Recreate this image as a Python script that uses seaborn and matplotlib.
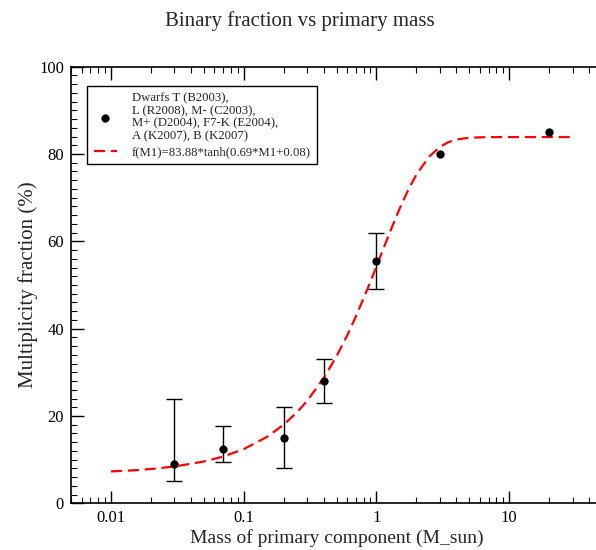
import numpy as np
import pandas as pd
import matplotlib
matplotlib.use("Agg")
import matplotlib.pyplot as plt
import seaborn as sns
from matplotlib.ticker import MultipleLocator, LogLocator, FixedFormatter, FixedLocator

# measured binary fractions
mass = [0.03, 0.07, 0.2, 0.4, 1.0, 3.0, 20.0]
frac = [9.0, 12.5, 15.0, 28.0, 55.6, 80.0, 85.0]
err_lo = [5.0, 9.5, 8.0, 23.0, 49.0, np.nan, np.nan]
err_hi = [24.0, 17.8, 22.0, 33.0, 62.0, np.nan, np.nan]

# fitted curve
fit_mass = [0.01, 0.015, 0.02, 0.03, 0.05, 0.07, 0.1, 0.15, 0.2, 0.25, 0.3, 0.4,
            0.5, 0.6, 0.7, 0.85, 1.0, 1.25, 1.5, 1.75, 2.0, 2.5, 3.0, 3.5, 4.0,
            5.0, 7.0, 10.0, 30.0]
fit_frac = [7.3, 7.56, 7.85, 8.42, 9.56, 10.7, 12.41, 15.22, 18.0, 20.74, 23.44, 28.66,
            33.65, 38.37, 42.8, 48.87, 54.26, 61.78, 67.62, 72.03, 75.31, 79.43, 81.62, 82.75, 83.31,
            83.74, 83.87, 83.88, 83.88]

xticks = [0.01, 0.1, 1, 10]
xtick_labels = ["0.01", "0.1", "1", "10"]

points_label = ("Dwarfs T (B2003),\nL (R2008), M- (C2003),\n"
                "M+ (D2004), F7-K (E2004),\nA (K2007), B (K2007)")
fit_label = "f(M1)=83.88*tanh(0.69*M1+0.08)"

sns.set_theme(style="ticks")
plt.rcParams['font.family'] = ['Liberation Serif', 'DejaVu Serif']

df = pd.DataFrame({"mass": mass, "frac": frac, "lo": err_lo, "hi": err_hi})
df_fit = pd.DataFrame({"mass": fit_mass, "frac": fit_frac})

fig = plt.figure(figsize=(5.96, 5.5), dpi=100)
ax = fig.add_axes([71 / 596, 1 - 503.3 / 550, 531 / 596, 436.6 / 550])

# error bars
has_err = df.dropna()
ax.errorbar(has_err["mass"], has_err["frac"],
            yerr=[has_err["frac"] - has_err["lo"], has_err["hi"] - has_err["frac"]],
            fmt="none", ecolor="black", elinewidth=1.0, capsize=6, capthick=1.0, zorder=2)

sns.lineplot(data=df_fit, x="mass", y="frac", ax=ax, color="red", lw=1.6,
             dashes=False, label=fit_label, zorder=3)
ax.lines[-1].set_dashes((5, 2.6))
sns.scatterplot(data=df, x="mass", y="frac", ax=ax, color="black", s=36,
                edgecolor="black", linewidth=0, label=points_label, zorder=4)

ax.set_xscale("log")
ax.set_xlim(0.005, 50)
ax.set_ylim(0, 100)
ax.xaxis.set_major_locator(FixedLocator(xticks))
ax.xaxis.set_major_formatter(FixedFormatter(xtick_labels))
ax.xaxis.set_minor_locator(LogLocator(base=10, subs=np.arange(2, 10)))
ax.yaxis.set_major_locator(MultipleLocator(20))
ax.yaxis.set_minor_locator(MultipleLocator(2))

ax.tick_params(which="both", direction="in", top=True, right=False, colors="black",
               labelsize=12, pad=5)
ax.tick_params(which="major", length=9, width=1)
ax.tick_params(which="minor", length=4.3, width=0.8)
for s in ax.spines.values():
    s.set_linewidth(1.2)
    s.set_color("black")

ax.set_xlabel("Mass of primary component (M_sun)", fontsize=14, labelpad=2)
ax.set_ylabel("Multiplicity fraction (%)", fontsize=15, labelpad=1)
fig.text(0.503, 1 - 21 / 550, "Binary fraction vs primary mass", fontsize=15,
         ha="center", va="center")

handles, labels = ax.get_legend_handles_labels()
leg = ax.legend(handles[::-1], labels[::-1], loc="upper left",
                bbox_to_anchor=(0.0307, 0.9565), borderaxespad=0, fontsize=9.2,
                frameon=True, fancybox=False, edgecolor="black", framealpha=1,
                handlelength=1.8, handletextpad=1.2, labelspacing=0.3, borderpad=0.5)
leg.get_frame().set_linewidth(1.0)
for t in leg.get_texts():
    t.set_linespacing(1.08)

fig.savefig("out.png", dpi=100)
